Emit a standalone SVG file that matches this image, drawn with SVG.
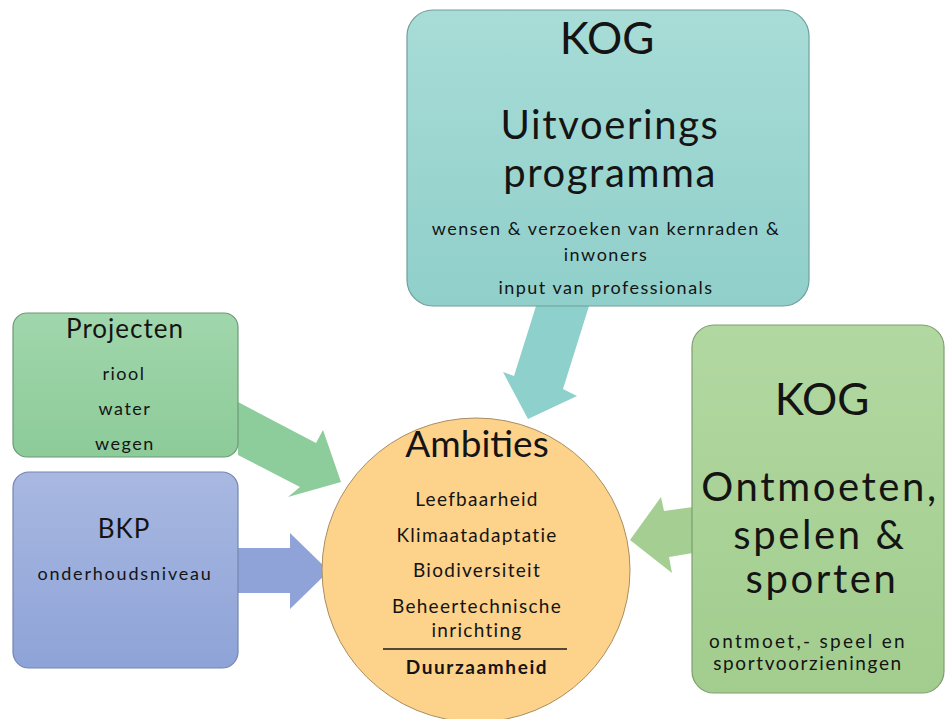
<svg xmlns="http://www.w3.org/2000/svg" width="945" height="719" viewBox="0 0 945 719">
  <defs>
    <linearGradient id="gTeal" x1="0" y1="0" x2="0" y2="1">
      <stop offset="0" stop-color="#a8dcd7"/>
      <stop offset="1" stop-color="#90cfca"/>
    </linearGradient>
    <linearGradient id="gGreen" x1="0" y1="0" x2="0" y2="1">
      <stop offset="0" stop-color="#a0d6ab"/>
      <stop offset="1" stop-color="#8dcb99"/>
    </linearGradient>
    <linearGradient id="gBlue" x1="0" y1="0" x2="0" y2="1">
      <stop offset="0" stop-color="#a8b8e1"/>
      <stop offset="1" stop-color="#8ea3d7"/>
    </linearGradient>
    <linearGradient id="gLime" x1="0" y1="0" x2="0" y2="1">
      <stop offset="0" stop-color="#b2d8a1"/>
      <stop offset="1" stop-color="#a2cd8e"/>
    </linearGradient>
  </defs>
  <style>
    text { font-family: Lato, "Open Sans", "Liberation Sans", sans-serif; fill: #141414; text-anchor: middle; }
    .big { font-size: 40px; letter-spacing: 1.6px; }
    .kog { font-size: 44px; }
    .mid { font-size: 26px; letter-spacing: 1px; }
    .sm { font-size: 18px; letter-spacing: 1.5px; }
    .amb { font-size: 19px; letter-spacing: 1.3px; }
    .box { stroke-width: 1.2; }
  </style>
  <rect width="945" height="719" fill="#ffffff"/>

  <g id="connectors">
    <polygon points="536,306 589,306 563,389 577,396 528,419 503,372 514,376" fill="#8ed0cc"/>
    <polygon points="238,402 316,443 323,430 341,482 288,497 300,487 238,455" fill="#8dcc9b"/>
    <polygon points="238,548 290,548 290,533 329,571 290,609 290,593 238,593" fill="#8fa3d8"/>
    <polygon points="693,507 664,511 661,497 630,540 672,573 669,557 693,553" fill="#a5cf92"/>
  </g>

  <g id="ambities">
    <ellipse cx="476" cy="570" rx="154" ry="152" fill="#fdd28b" stroke="#a88e62" stroke-width="1"/>
    <text x="477" y="457" style="font-size:37px">Ambities</text>
    <text x="477" y="506" class="amb">Leefbaarheid</text>
    <text x="477" y="542" class="amb">Klimaatadaptatie</text>
    <text x="477" y="577" class="amb">Biodiversiteit</text>
    <text x="477" y="613" class="amb">Beheertechnische</text>
    <text x="477" y="637" class="amb">inrichting</text>
    <line x1="383" y1="649" x2="567" y2="649" stroke="#1a1a1a" stroke-width="1.5"/>
    <text x="477" y="674" class="amb" style="font-weight:bold;letter-spacing:1.6px">Duurzaamheid</text>
  </g>

  <g id="kog-uitvoering">
    <rect class="box" x="407" y="10" width="402" height="296" rx="26" fill="url(#gTeal)" stroke="#6f9f9c"/>
    <text x="607" y="54" class="kog">KOG</text>
    <text x="610" y="139" class="big">Uitvoerings</text>
    <text x="610" y="187" class="big">programma</text>
    <text x="606" y="235" class="sm">wensen &amp; verzoeken  van kernraden  &amp;</text>
    <text x="606" y="261" class="sm">inwoners</text>
    <text x="606" y="294" class="sm">input van professionals</text>
  </g>

  <g id="projecten">
    <rect class="box" x="13" y="313" width="225" height="144" rx="14" fill="url(#gGreen)" stroke="#6d9a77"/>
    <text x="125" y="338" class="mid">Projecten</text>
    <text x="124" y="380" class="sm">riool</text>
    <text x="125" y="415" class="sm">water</text>
    <text x="125" y="450" class="sm">wegen</text>
  </g>

  <g id="bkp">
    <rect class="box" x="13" y="472" width="225" height="196" rx="16" fill="url(#gBlue)" stroke="#7485b0"/>
    <text x="124" y="538" class="mid">BKP</text>
    <text x="125" y="580" style="font-size:18px;letter-spacing:1.8px">onderhoudsniveau</text>
  </g>

  <g id="kog-ontmoeten">
    <rect class="box" x="692" y="325" width="252" height="368" rx="22" fill="url(#gLime)" stroke="#7e9d70"/>
    <text x="822" y="415" class="kog">KOG</text>
    <text x="820" y="501" class="big" style="letter-spacing:2.6px">Ontmoeten,</text>
    <text x="820" y="549" class="big" style="letter-spacing:2.6px">spelen &amp;</text>
    <text x="822" y="593" class="big" style="letter-spacing:2.6px">sporten</text>
    <text x="808" y="648" style="font-size:19px;letter-spacing:2.3px">ontmoet,- speel en</text>
    <text x="808" y="670" style="font-size:19px;letter-spacing:1.6px">sportvoorzieningen</text>
  </g>
</svg>
